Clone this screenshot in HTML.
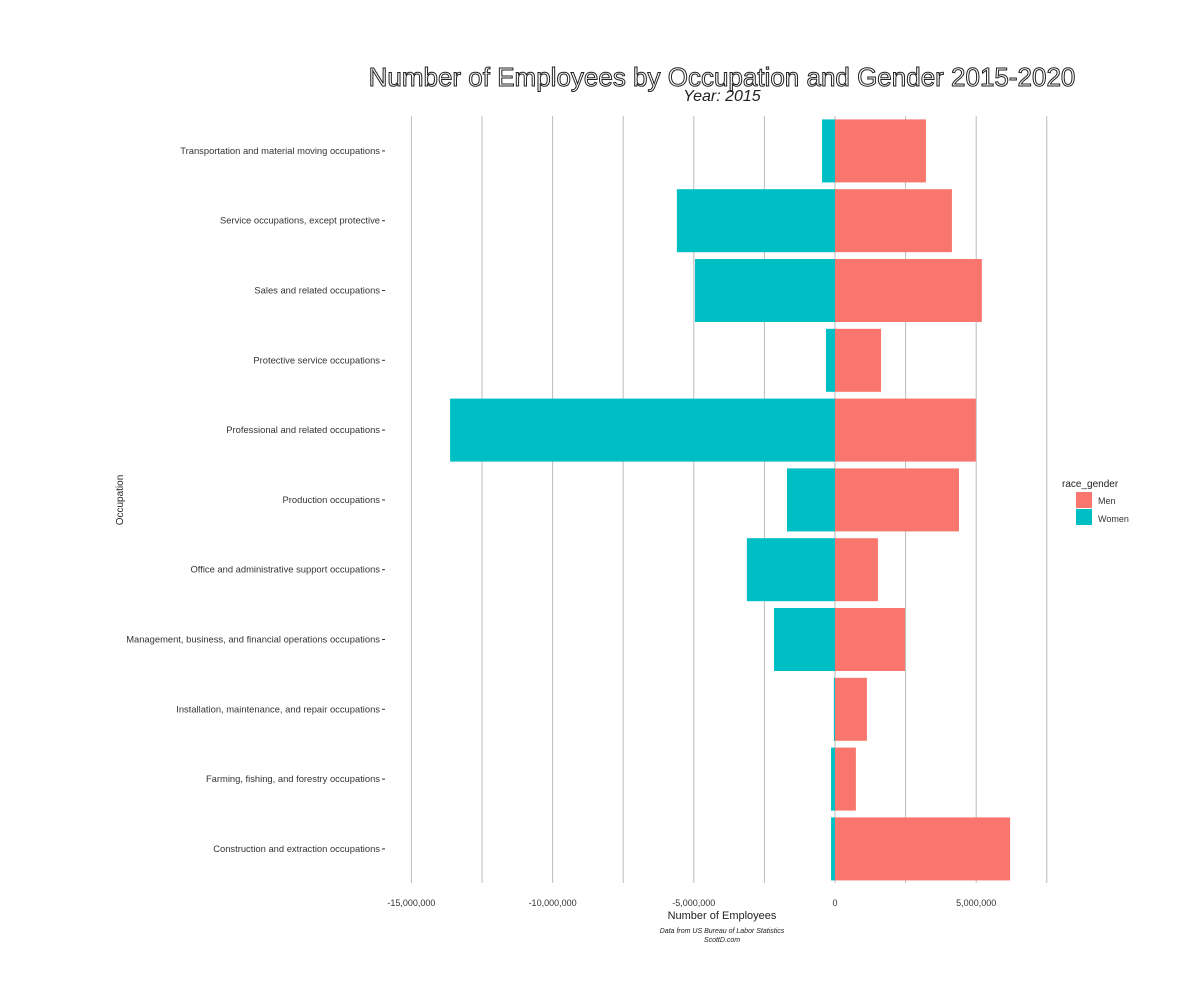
<!DOCTYPE html>
<html><head><meta charset="utf-8"><style>
body{margin:0;background:#fff;font-family:"Liberation Sans",sans-serif;}
svg text{font-family:"Liberation Sans",sans-serif;}
</style></head><body>
<svg id="chart" width="1200" height="1000">
<text x="722" y="86" text-anchor="middle" font-size="26" fill="#fff" stroke="#222" stroke-width="1">Number of Employees by Occupation and Gender 2015-2020</text>
<text x="722" y="101" text-anchor="middle" font-size="16" font-style="italic" fill="#222">Year: 2015</text>
<g id="grid"></g><g id="bars"></g><g id="ylab"></g><g id="xlab"></g>
<text x="722" y="919" text-anchor="middle" font-size="11" fill="#222">Number of Employees</text>
<text x="722" y="933" text-anchor="middle" font-size="7" font-style="italic" fill="#222">Data from US Bureau of Labor Statistics</text>
<text x="722" y="942" text-anchor="middle" font-size="7" font-style="italic" fill="#222">ScottD.com</text>
<text transform="translate(123,500) rotate(-90)" text-anchor="middle" font-size="10" fill="#222">Occupation</text>
<g>
<text x="1062" y="487" font-size="10" fill="#222">race_gender</text>
<rect x="1076" y="492" width="16" height="16" fill="#F8766D"/>
<text x="1098" y="504" font-size="9" fill="#333">Men</text>
<rect x="1076" y="509" width="16" height="16" fill="#00BFC4"/>
<text x="1098" y="522" font-size="9" fill="#333">Women</text>
</g>
</svg>
<script>
const categories=["Transportation and material moving occupations","Service occupations, except protective","Sales and related occupations","Protective service occupations","Professional and related occupations","Production occupations","Office and administrative support occupations","Management, business, and financial operations occupations","Installation, maintenance, and repair occupations","Farming, fishing, and forestry occupations","Construction and extraction occupations"];
const menValues=[3.22e6,4.14e6,5.2e6,1.63e6,4.99e6,4.39e6,1.52e6,2.48e6,1.13e6,0.74e6,6.2e6];
const womenValues=[-0.46e6,-5.6e6,-4.96e6,-0.32e6,-13.63e6,-1.7e6,-3.12e6,-2.16e6,-0.04e6,-0.14e6,-0.14e6];
const tickValues=[-15e6,-10e6,-5e6,0,5e6];
const tickLabels=["-15,000,000","-10,000,000","-5,000,000","0","5,000,000"];
const gridValues=[-15e6,-12.5e6,-10e6,-7.5e6,-5e6,-2.5e6,0,2.5e6,5e6,7.5e6];
const NS="http://www.w3.org/2000/svg";
const xs=v=>835+v*141.2/5e6;
const plotTop=116,band=69.8,bh=63;
const ys=i=>plotTop+band*i+band/2;
function mk(t,a,p){const e=document.createElementNS(NS,t);for(const k in a)e.setAttribute(k,a[k]);document.getElementById(p).appendChild(e);return e;}
gridValues.forEach(g=>{const l=mk('line',{x1:xs(g),x2:xs(g),y1:plotTop,y2:883,stroke:'#bbb','stroke-width':1},'grid');

});
categories.forEach((c,i)=>{
const m=mk('rect',{x:xs(0),y:ys(i)-bh/2,width:xs(menValues[i])-xs(0),height:bh,fill:'#F8766D'},'bars');


const w=mk('rect',{x:xs(womenValues[i]),y:ys(i)-bh/2,width:xs(0)-xs(womenValues[i]),height:bh,fill:'#00BFC4'},'bars');


const t=mk('text',{x:380,y:ys(i)+3,'text-anchor':'end','font-size':'9.4',fill:'#333'},'ylab');t.textContent=c;


const tk=mk('line',{x1:382,x2:385,y1:ys(i),y2:ys(i),stroke:'#333'},'ylab');


});
tickValues.forEach((v,i)=>{const t=mk('text',{x:xs(v),y:906,'text-anchor':'middle','font-size':'9',fill:'#333'},'xlab');t.textContent=tickLabels[i];

});
</script>
</body></html>
